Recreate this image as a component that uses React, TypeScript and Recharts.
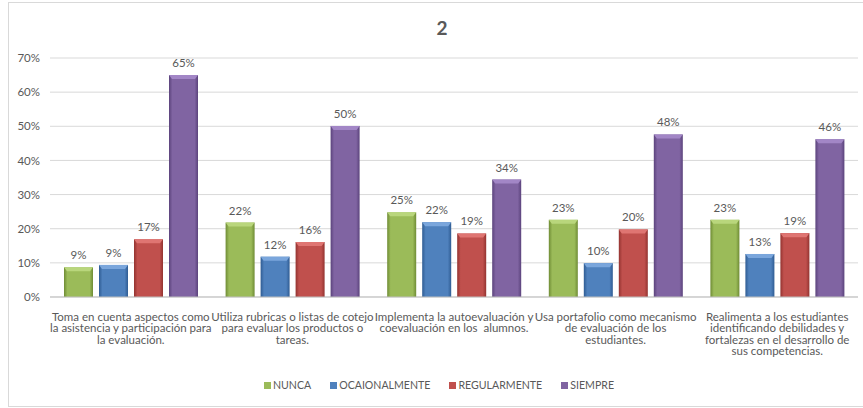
import React from "react";
import { BarChart, Bar, XAxis, YAxis, CartesianGrid, Legend, LabelList } from "recharts";

const categoryLines = [
  ["Toma en cuenta aspectos como", "la asistencia y participación para", "la evaluación."],
  ["Utiliza rubricas o listas de cotejo", "para evaluar los productos o", "tareas."],
  ["Implementa la autoevaluación y", "coevaluación en los  alumnos."],
  ["Usa portafolio como mecanismo", "de evaluación de los", "estudiantes."],
  ["Realimenta a los estudiantes", "identificando debilidades y", "fortalezas en el desarrollo de", "sus competencias."],
];

const nunca = [8.7, 21.8, 24.8, 22.6, 22.6];
const ocasionalmente = [9.4, 11.8, 21.9, 9.9, 12.6];
const regularmente = [16.9, 16.1, 18.6, 19.8, 18.7];
const siempre = [65, 50.1, 34.4, 47.6, 46.2];

const seriesNames = ["NUNCA", "OCAIONALMENTE", "REGULARMENTE", "SIEMPRE"];
const seriesColors = ["#9bbb59", "#4f81bd", "#c0504d", "#8064a2"];
const seriesDark = ["#6f8c35", "#2f5c93", "#933330", "#5b437c"];
const seriesLight = ["#b9d67c", "#7aa6dc", "#df7572", "#a286c6"];
const yTicks = [0, 10, 20, 30, 40, 50, 60, 70];

const seriesValues = [nunca, ocasionalmente, regularmente, siempre];
const data = categoryLines.map((_, i) => {
  const row: Record<string, number | string> = { key: String(i) };
  seriesNames.forEach((name, s) => {
    row[name] = seriesValues[s][i];
  });
  return row;
});

const FONT = "Lato, 'Open Sans', sans-serif";
const TEXT = "#595959";

const CategoryTick = (props: any) => {
  const { x, y, payload } = props;
  const lines = categoryLines[payload.index] || [];
  return (
    <text x={x} y={y} textAnchor="middle" fill={TEXT} fontSize={11.5} fontFamily={FONT}>
      {lines.map((l, i) => (
        <tspan key={i} x={x} dy={i === 0 ? 15.5 : 11.5} style={{ whiteSpace: "pre" }}>
          {l}
        </tspan>
      ))}
    </text>
  );
};

const makeShape = (s: number) => (props: any) => {
  const { x, y, width, height } = props;
  if (!height || height <= 0) return <g />;
  const bevel = Math.min(4, height);
  return (
    <g>
      <rect x={x} y={y} width={width} height={height} fill={`url(#grad-${s})`} />
      <polygon
        points={`${x},${y} ${x + width},${y} ${x + width - 3},${y + bevel} ${x + 3},${y + bevel}`}
        fill={seriesLight[s]}
      />
    </g>
  );
};

const LegendContent = () => (
  <div
    style={{
      display: "flex",
      justifyContent: "center",
      paddingLeft: 20,
      fontFamily: FONT,
      fontSize: 10.6,
      color: TEXT,
      lineHeight: "14px",
    }}
  >
    {seriesNames.map((n, i) => (
      <span key={n} style={{ display: "inline-flex", alignItems: "center", marginRight: i < 3 ? 19 : 0 }}>
        <span style={{ width: 7, height: 7, background: seriesColors[i], marginRight: 2, display: "inline-block" }} />
        {n}
      </span>
    ))}
  </div>
);

export default function App() {
  return (
    <div style={{ position: "absolute", left: 0, top: 0, width: 863, height: 408, overflow: "hidden", background: "#fff" }}>
      <div
        style={{
          position: "absolute",
          left: 8,
          top: 2,
          width: 880,
          height: 403,
          border: "1px solid #d9d9d9",
        }}
      />
      <div
        style={{
          position: "absolute",
          left: 342,
          width: 200,
          top: 16,
          textAlign: "center",
          fontFamily: FONT,
          fontWeight: 700,
          fontSize: 19,
          color: TEXT,
        }}
      >
        2
      </div>
      <BarChart
        width={863}
        height={408}
        data={data}
        margin={{ top: 58, right: 5, left: 0, bottom: 0 }}
        barSize={29}
        barGap={6}
      >
        <defs>
          {seriesColors.map((c, i) => (
            <linearGradient key={i} id={`grad-${i}`} x1="0" y1="0" x2="1" y2="0">
              <stop offset="0%" stopColor={seriesDark[i]} />
              <stop offset="12%" stopColor={c} />
              <stop offset="50%" stopColor={c} />
              <stop offset="88%" stopColor={c} />
              <stop offset="100%" stopColor={seriesDark[i]} />
            </linearGradient>
          ))}
        </defs>
        <CartesianGrid vertical={false} stroke="#d9d9d9" />
        <XAxis
          dataKey="key"
          height={81}
          tickLine={false}
          axisLine={{ stroke: "#bfbfbf" }}
          tick={<CategoryTick />}
          interval={0}
        />
        <YAxis
          width={50}
          domain={[0, 70]}
          ticks={yTicks}
          tickFormatter={(v: number) => `${v}%`}
          axisLine={false}
          tickLine={false}
          tick={{ fill: TEXT, fontSize: 11.5, fontFamily: FONT }}
          tickMargin={4}
        />
        <Legend verticalAlign="bottom" height={30} content={<LegendContent />} />
        {seriesNames.map((name, s) => (
          <Bar key={name} dataKey={name} fill={seriesColors[s]} shape={makeShape(s)} isAnimationActive={false}>
            <LabelList
              dataKey={name}
              position="top"
              offset={8}
              formatter={(v: any) => `${Math.round(Number(v))}%`}
              style={{ fill: TEXT, fontSize: 11.5, fontFamily: FONT }}
            />
          </Bar>
        ))}
      </BarChart>
    </div>
  );
}
